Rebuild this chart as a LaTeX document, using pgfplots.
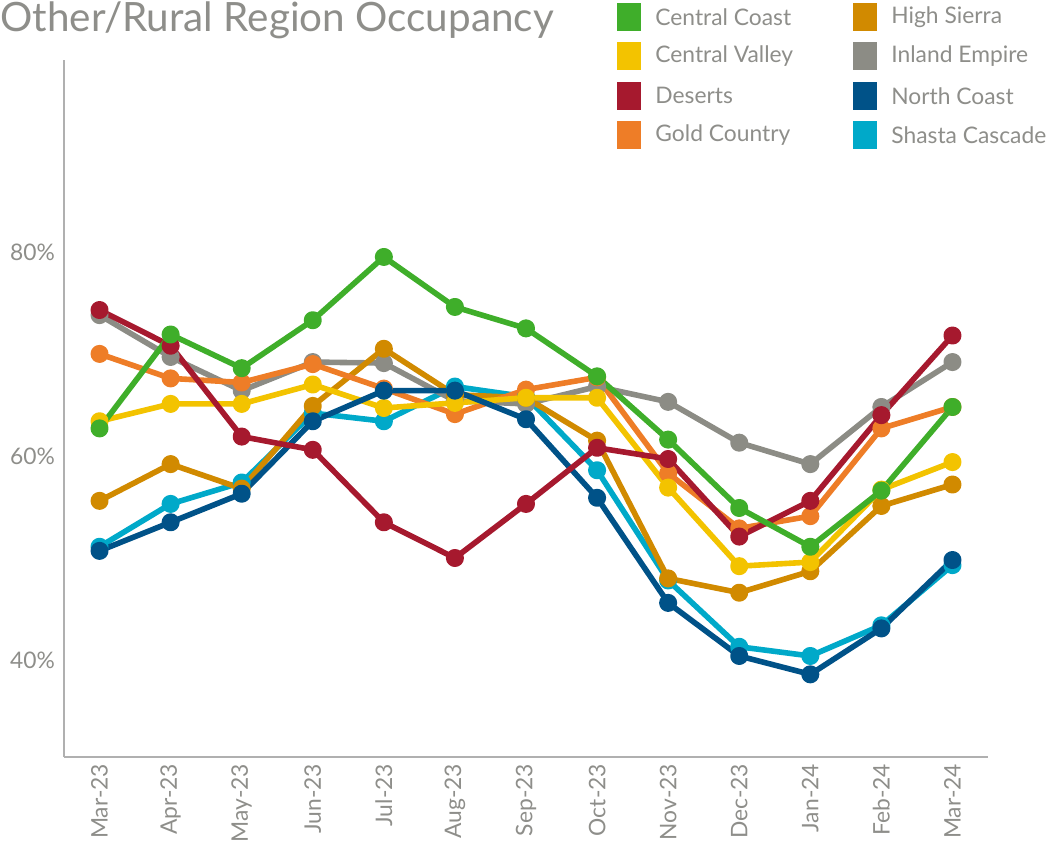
\documentclass[border=0pt]{standalone}
\usepackage{pgfplots}
\usepackage{pgfplotstable}
\pgfplotsset{compat=1.18}
\usepackage{fontspec}
\setmainfont{Lato}
\definecolor{cCC}{HTML}{3FAE2A}
\definecolor{cCV}{HTML}{F3C300}
\definecolor{cDE}{HTML}{A6192E}
\definecolor{cGC}{HTML}{EE7D27}
\definecolor{cHS}{HTML}{D18A00}
\definecolor{cIE}{HTML}{8C8C85}
\definecolor{cNC}{HTML}{005288}
\definecolor{cSC}{HTML}{00A9C9}
\definecolor{txt}{HTML}{8E8E8A}
\definecolor{axl}{HTML}{B0B0B0}
\pgfplotstableread{
x CC CV DE GC HS IE NC SC
0 62.7 63.4 74.3 70.0 55.6 73.8 50.7 51.1
1 71.9 65.1 70.8 67.6 59.2 69.7 53.5 55.3
2 68.6 65.1 61.9 67.2 56.8 66.4 56.3 57.4
3 73.3 67.0 60.6 69.0 64.9 69.2 63.4 64.2
4 79.5 64.7 53.5 66.6 70.5 69.1 66.4 63.4
5 74.6 65.2 50.0 64.1 66.0 65.4 66.4 66.8
6 72.5 65.7 55.3 66.5 65.7 65.1 63.6 65.8
7 67.8 65.7 60.8 67.7 61.5 66.8 55.9 58.6
8 61.6 56.9 59.7 58.3 48.0 65.3 45.6 47.8
9 54.9 49.2 52.1 52.9 46.6 61.3 40.4 41.3
10 51.1 49.6 55.6 54.1 48.7 59.2 38.6 40.4
11 56.6 56.7 64.0 62.7 55.1 64.8 43.1 43.4
12 64.8 59.4 71.8 64.8 57.2 69.2 49.8 49.3
}\datatab
\begin{document}
\begin{tikzpicture}
\path[use as bounding box] (-32pt,-44.5pt) rectangle (495pt,378.5pt);
\begin{axis}[
  at={(0pt,0pt)}, anchor=south west,
  scale only axis, width=462pt, height=348.5pt,
  xmin=-0.5, xmax=12.5, ymin=30.5, ymax=98.8,
  axis x line*=bottom, axis y line*=left,
  axis line style={axl, line width=0.6pt, -},
  xtick={0,...,12},
  xticklabels={Mar-23,Apr-23,May-23,Jun-23,Jul-23,Aug-23,Sep-23,Oct-23,Nov-23,Dec-23,Jan-24,Feb-24,Mar-24},
  xticklabel style={rotate=90, anchor=east, font=\fontsize{11.4}{11.4}\selectfont, text=txt},
  major x tick style={draw=none},
  extra x ticks={-0.5,0.5,...,12.5},
  extra x tick labels={},
  extra x tick style={tick style={draw=axl!50, line width=0.5pt}, major tick length=7pt, tick align=outside},
  ytick={40,60,80},
  yticklabel={\pgfmathprintnumber{\tick}\%},
  yticklabel style={font=\fontsize{11.4}{11.4}\selectfont, text=txt, xshift=-1pt},
  /pgf/number format/assume math mode=true,
  major y tick style={draw=none},
  clip=false,
  every axis plot/.append style={line width=2.8pt, mark=*, mark size=3.1pt, line join=round},
]
\addplot[cSC, mark options={fill=cSC, draw=cSC}] table[x=x, y=SC] {\datatab};
\addplot[cIE, mark options={fill=cIE, draw=cIE}] table[x=x, y=IE] {\datatab};
\addplot[cHS, mark options={fill=cHS, draw=cHS}] table[x=x, y=HS] {\datatab};
\addplot[cGC, mark options={fill=cGC, draw=cGC}] table[x=x, y=GC] {\datatab};
\addplot[cCV, mark options={fill=cCV, draw=cCV}] table[x=x, y=CV] {\datatab};
\addplot[cNC, mark options={fill=cNC, draw=cNC}] table[x=x, y=NC] {\datatab};
\addplot[cDE, mark options={fill=cDE, draw=cDE}] table[x=x, y=DE] {\datatab};
\addplot[cCC, mark options={fill=cCC, draw=cCC}] table[x=x, y=CC] {\datatab};
\end{axis}
% title
\node[anchor=west, text=txt, inner sep=0pt, font=\fontsize{20.2}{20.2}\selectfont] at (-32pt,368.5pt) {Other/Rural Region Occupancy};
% legend
\foreach \c/\t [count=\i from 0] in {cCC/Central Coast,cCV/Central Valley,cDE/Deserts,cGC/Gold Country}{
  \fill[\c] (276.5pt,{377pt-\i*19.7pt}) rectangle ++(12pt,-14pt);
  \node[anchor=west, text=txt, inner sep=0pt, font=\fontsize{11.4}{11.4}\selectfont] at (295.5pt,{370pt-\i*19.7pt}) {\t};
}
\foreach \c/\t [count=\i from 0] in {cHS/High Sierra,cIE/Inland Empire,cNC/North Coast,cSC/Shasta Cascade}{
  \fill[\c] (394.5pt,{377pt-\i*19.7pt}) rectangle ++(12pt,-14pt);
  \node[anchor=west, text=txt, inner sep=0pt, font=\fontsize{11.4}{11.4}\selectfont] at (413.5pt,{370pt-\i*19.7pt}) {\t};
}
\end{tikzpicture}
\end{document}
